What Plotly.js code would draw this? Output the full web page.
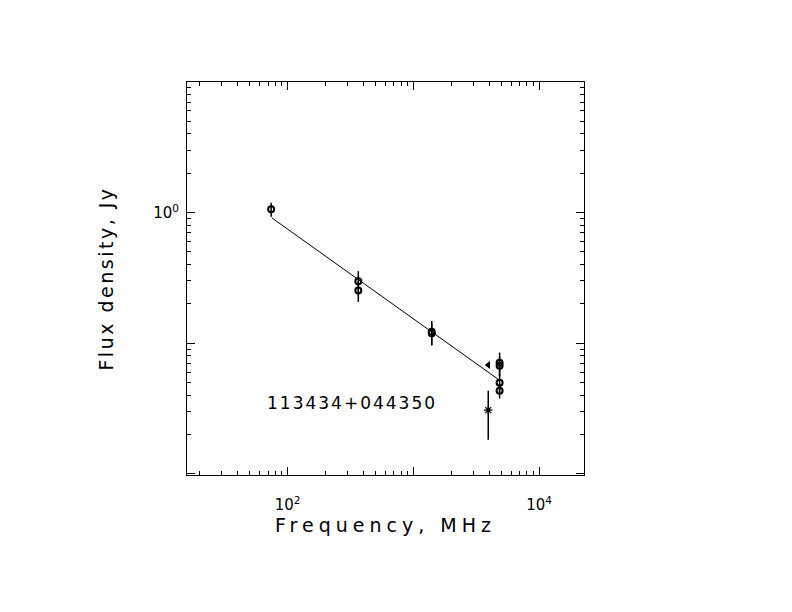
<!DOCTYPE html>
<html>
<head>
<meta charset="utf-8">
<script src="https://cdn.plot.ly/plotly-3.0.1.min.js"></script>
<style>
html,body{margin:0;padding:0;background:#fff;}
#chart{width:792px;height:612px;}
.xtitle{letter-spacing:5px;}
.ytitle{letter-spacing:2.5px;}
.annotation-text{letter-spacing:2px;}
</style>
</head>
<body>
<div id="chart"></div>
<script>
// Measured flux densities (MHz, Jy)
const circFreq = [74, 365, 365, 1400, 1400, 4850, 4850, 4850, 4850];
const circFlux = [1.06, 0.298, 0.253, 0.122, 0.119, 0.0707, 0.0671, 0.0497, 0.0432];
const circErr  = [0.13, 0.058, 0.046, 0.026, 0.022, 0.014, 0.012, 0.008, 0.0055];

// Star point
const starFreq = [3940];
const starFlux = [0.0307];
const starErr  = [0.0125];

// Triangle point
const triFreq = [3940];
const triFlux = [0.068];

// Fitted power law line
const fitFreq = [75, 4750];
const fitFlux = [0.91, 0.0527];

// Tick marks
const xLabelled = [100, 10000];
const xLabelText = ['10<sup>2</sup>', '10<sup>4</sup>'];
const xUnlabelled = [1000];
const yLabelled = [1];
const yLabelText = ['10<sup>0</sup>'];
const yUnlabelled = [0.01, 0.1, 10];

const sourceName = '113434+044350';

function minorVals(lo, hi) {
  const out = [];
  for (let d = lo; d < hi; d++) {
    for (let m = 2; m <= 9; m++) out.push(m * Math.pow(10, d));
  }
  return out;
}

const traces = [
  {
    x: fitFreq, y: fitFlux, mode: 'lines', type: 'scatter',
    line: {color: '#000', width: 1}, showlegend: false, hoverinfo: 'skip'
  },
  {
    x: circFreq, y: circFlux, mode: 'markers', type: 'scatter',
    marker: {symbol: 'circle-open', size: 6, color: '#000', line: {width: 2, color: '#000'}},
    error_y: {type: 'data', array: circErr, visible: true, width: 0, thickness: 1.5, color: '#000'},
    showlegend: false
  },
  {
    x: starFreq, y: starFlux, mode: 'markers', type: 'scatter',
    marker: {symbol: 'asterisk-open', size: 7, color: '#000', line: {width: 1.2, color: '#000'}},
    error_y: {type: 'data', array: starErr, visible: true, width: 0, thickness: 1.5, color: '#000'},
    showlegend: false
  },
  {
    x: triFreq, y: triFlux, mode: 'markers', type: 'scatter',
    marker: {symbol: 'triangle-left', size: 7, color: '#000'},
    showlegend: false
  },
  {
    x: [], y: [], xaxis: 'x2', yaxis: 'y2', mode: 'markers', type: 'scatter',
    showlegend: false, hoverinfo: 'skip'
  }
];

const fontFam = 'DejaVu Sans, sans-serif';
const xRange = [1.2, 4.357];
const yRange = [-2.01, 1.0];

const layout = {
  width: 792, height: 612,
  paper_bgcolor: '#fff', plot_bgcolor: '#fff',
  margin: {l: 187, r: 208, t: 82, b: 137, pad: 0},
  showlegend: false,
  xaxis: {
    type: 'log', range: xRange,
    showline: true, linecolor: '#000', linewidth: 1, mirror: 'ticks',
    showgrid: false, zeroline: false,
    ticks: 'inside', ticklen: 8, tickwidth: 1, tickcolor: '#000',
    tickmode: 'array', tickvals: xLabelled, ticktext: xLabelText,
    ticklabelstandoff: 16,
    tickfont: {family: fontFam, size: 15, color: '#000'},
    minor: {tickmode: 'array', tickvals: minorVals(1, 4), ticks: 'inside', ticklen: 4, tickwidth: 1, tickcolor: '#000', showgrid: false},
    title: {text: 'Frequency, MHz', font: {family: fontFam, size: 19, color: '#000'}, standoff: 1}
  },
  yaxis: {
    type: 'log', range: yRange,
    showline: true, linecolor: '#000', linewidth: 1, mirror: 'ticks',
    showgrid: false, zeroline: false,
    ticks: 'inside', ticklen: 8, tickwidth: 1, tickcolor: '#000',
    tickmode: 'array', tickvals: yLabelled, ticktext: yLabelText,
    ticklabelstandoff: 4,
    tickfont: {family: fontFam, size: 15, color: '#000'},
    minor: {tickmode: 'array', tickvals: minorVals(-2, 1), ticks: 'inside', ticklen: 4, tickwidth: 1, tickcolor: '#000', showgrid: false},
    title: {text: 'Flux density, Jy', font: {family: fontFam, size: 19, color: '#000'}, standoff: 34}
  },
  xaxis2: {
    type: 'log', range: xRange, overlaying: 'x', anchor: 'y2', side: 'bottom',
    showline: false, mirror: 'ticks', showgrid: false, zeroline: false,
    ticks: 'inside', ticklen: 8, tickwidth: 1, tickcolor: '#000',
    tickmode: 'array', tickvals: xUnlabelled, showticklabels: false
  },
  yaxis2: {
    type: 'log', range: yRange, overlaying: 'y', anchor: 'x2', side: 'left',
    showline: false, mirror: 'ticks', showgrid: false, zeroline: false,
    ticks: 'inside', ticklen: 8, tickwidth: 1, tickcolor: '#000',
    tickmode: 'array', tickvals: yUnlabelled, showticklabels: false
  },
  annotations: [{
    x: Math.log10(66), y: Math.log10(0.0345), xref: 'x', yref: 'y',
    text: sourceName, showarrow: false, xanchor: 'left', yanchor: 'middle',
    font: {family: fontFam, size: 17, color: '#000'}
  }]
};

Plotly.newPlot('chart', traces, layout, {staticPlot: true, displayModeBar: false});
</script>
</body>
</html>
